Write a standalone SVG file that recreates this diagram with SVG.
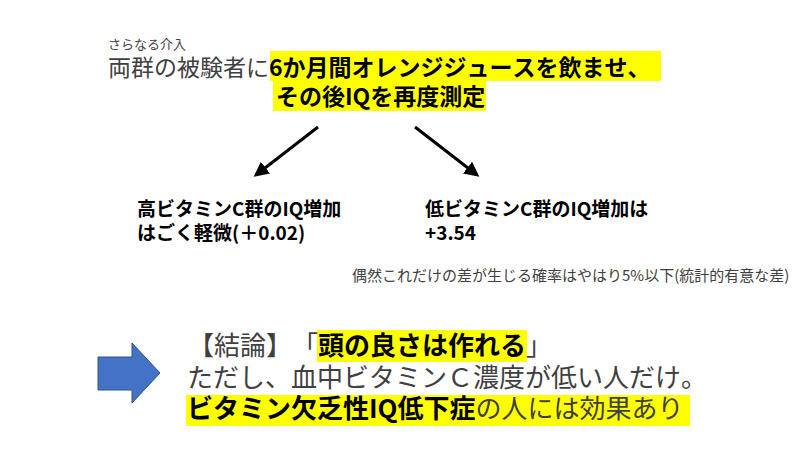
<svg xmlns="http://www.w3.org/2000/svg" width="800" height="450" viewBox="0 0 800 450">
<style>
text{font-family:"Noto Sans CJK JP","Noto Sans",sans-serif;fill:#404040;text-spacing-trim:space-all;font-kerning:none}
.b{font-weight:bold;fill:#000}
.hl{fill:#ffff00}
.conn{stroke:#000;stroke-width:3;fill:none}
</style>
<defs>
<marker id="ah" viewBox="0 0 10 10" refX="8" refY="5" markerWidth="5" markerHeight="5" orient="auto" markerUnits="strokeWidth">
<path d="M0,0 L10,5 L0,10 z" fill="#000"/>
</marker>
</defs>
<rect width="800" height="450" fill="#fff"/>
<g id="intro">
<text x="108" y="49" font-size="13">さらなる介入</text>
<rect class="hl" x="270" y="51" width="391" height="30"/>
<rect class="hl" x="273" y="81" width="213" height="30"/>
<text x="108" y="76" font-size="23">両群の被験者に<tspan class="b">6か月間オレンジジュースを飲ませ、</tspan></text>
<text x="276" y="105" font-size="23" class="b">その後IQを再度測定</text>
</g>
<g id="connectors">
<line class="conn" x1="318" y1="127" x2="256" y2="175" marker-end="url(#ah)"/>
<line class="conn" x1="415" y1="127" x2="477" y2="175" marker-end="url(#ah)"/>
</g>
<g id="high">
<text x="137" y="216" font-size="19" class="b">高ビタミンC群のIQ増加</text>
<text x="137" y="240" font-size="19" class="b">はごく軽微(＋0.02)</text>
</g>
<g id="low">
<text x="425" y="216" font-size="19" class="b">低ビタミンC群のIQ増加は</text>
<text x="425" y="240" font-size="19" class="b">+3.54</text>
</g>
<g id="note">
<text x="352" y="281" font-size="15">偶然これだけの差が生じる確率はやはり5%以下(統計的有意な差)</text>
</g>
<g id="block-arrow">
<path d="M98,357 L132,357 L132,343 L160,373 L132,403 L132,390 L98,390 z" fill="#4472c4" stroke="#2f528f" stroke-width="1"/>
</g>
<g id="conclusion">
<rect class="hl" x="317" y="330" width="210" height="32"/>
<rect class="hl" x="186" y="395" width="504" height="31"/>
<text x="188" y="355" font-size="26">【結論】「<tspan class="b">頭の良さは作れる</tspan>」</text>
<text x="187" y="387" font-size="26">ただし、血中ビタミンＣ濃度が低い人だけ。</text>
<text x="187" y="418" font-size="26"><tspan class="b">ビタミン欠乏性IQ低下症</tspan>の人には効果あり</text>
</g>
</svg>
